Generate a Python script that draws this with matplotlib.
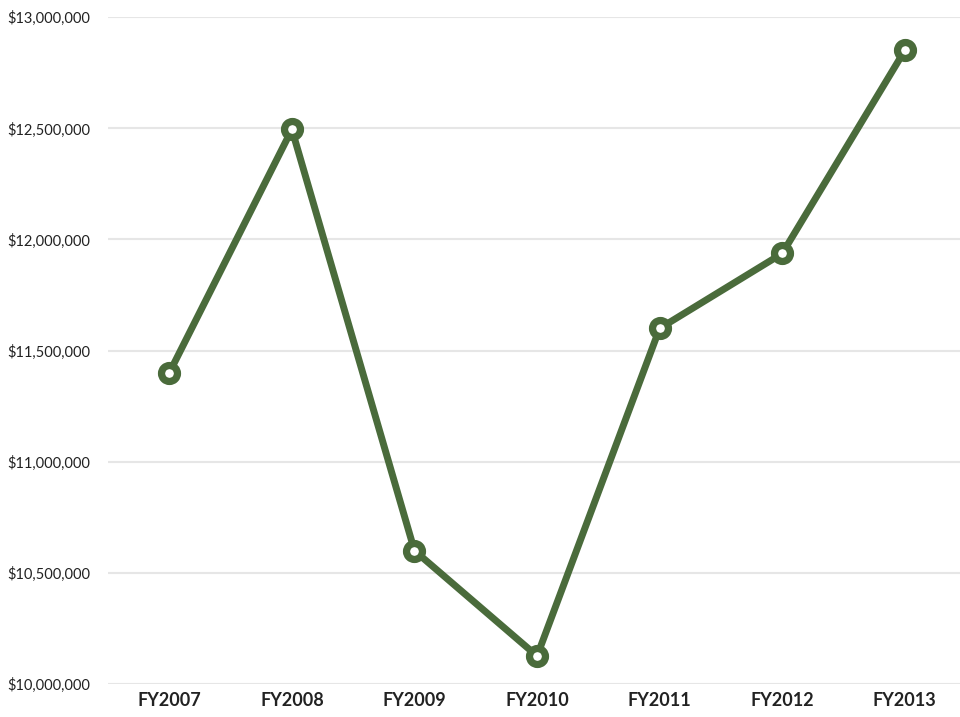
import matplotlib
matplotlib.use('Agg')
import matplotlib.pyplot as plt
from matplotlib.ticker import FuncFormatter

plt.rcParams['font.family'] = 'Lato'

years = ['FY2007', 'FY2008', 'FY2009', 'FY2010', 'FY2011', 'FY2012', 'FY2013']
revenue = [11400000, 12495000, 10600000, 10126000, 11600000, 11937000, 12851000]

green = '#4a6b3b'

fig = plt.figure(figsize=(9.6, 7.17), dpi=100)
ax = fig.add_axes([0.1125, 0.046, 0.8875, 0.930])

x = range(len(years))
ax.plot(x, revenue, color=green, linewidth=5, marker='o', markersize=11.5,
        markerfacecolor='white', markeredgecolor=green, markeredgewidth=5.2,
        zorder=3, clip_on=False)

ax.set_xlim(-0.5, 6.45)
ax.set_ylim(10000000, 13000000)
ax.set_yticks(range(10000000, 13000001, 500000))
ax.yaxis.set_major_formatter(FuncFormatter(lambda v, p: '${:,.0f}'.format(v)))
ax.set_xticks(list(x))
ax.set_xticklabels(years, fontsize=13, fontweight='bold', color='#222222')
ax.tick_params(axis='y', labelsize=10.5, colors='#222222', length=0, pad=13)
ax.tick_params(axis='x', length=0, pad=6)

ax.grid(axis='y', color='#e6e6e6', linewidth=1.5, zorder=0)
for s in ax.spines.values():
    s.set_visible(False)

fig.savefig('out.png', dpi=100)
